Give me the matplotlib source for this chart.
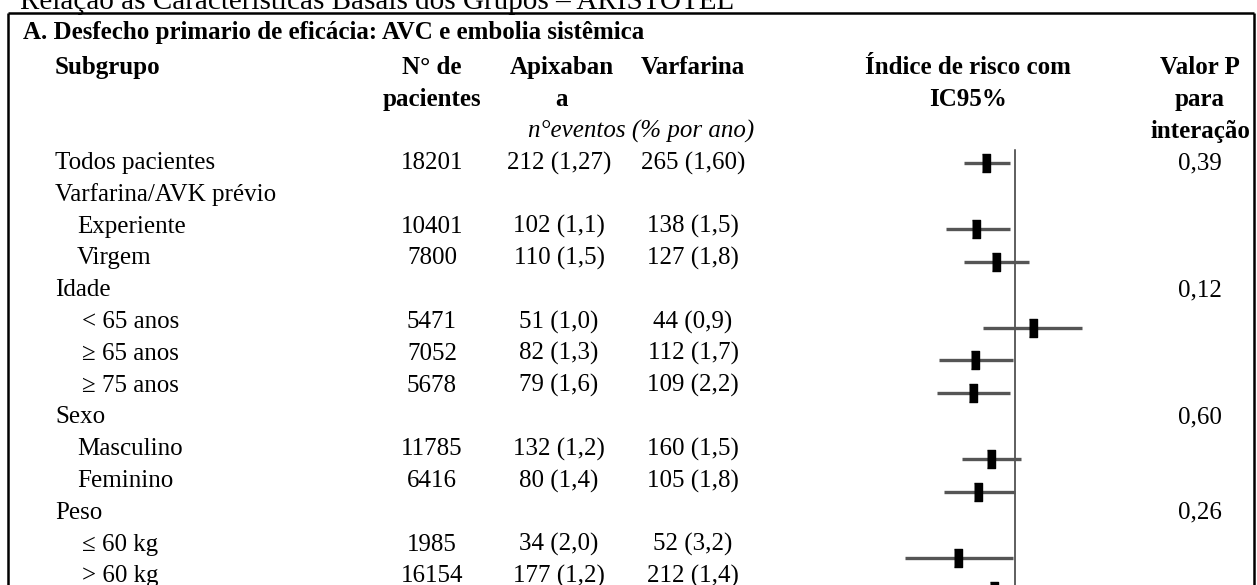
import numpy as np
import matplotlib
matplotlib.use("Agg")
import matplotlib.pyplot as plt

plt.rcParams['font.family'] = ['Liberation Serif', 'DejaVu Serif']

# table data
labels = ["Todos pacientes", "Varfarina/AVK prévio", "Experiente", "Virgem",
          "Idade", "< 65 anos", "≥ 65 anos", "≥ 75 anos",
          "Sexo", "Masculino", "Feminino", "Peso", "≤ 60 kg", "> 60 kg"]
indent = [0, 0, 1, 1, 0, 2, 2, 2, 0, 1, 1, 0, 2, 2]
n_pat = ["18201", "", "10401", "7800", "", "5471", "7052", "5678",
         "", "11785", "6416", "", "1985", "16154"]
apix = ["212 (1,27)", "", "102 (1,1)", "110 (1,5)", "", "51 (1,0)", "82 (1,3)", "79 (1,6)",
        "", "132 (1,2)", "80 (1,4)", "", "34 (2,0)", "177 (1,2)"]
warf = ["265 (1,60)", "", "138 (1,5)", "127 (1,8)", "", "44 (0,9)", "112 (1,7)", "109 (2,2)",
        "", "160 (1,5)", "105 (1,8)", "", "52 (3,2)", "212 (1,4)"]
pval = ["0,39", "", "", "", "0,12", "", "", "", "0,60", "", "", "0,26", "", ""]

# hazard ratios with 95% CI
hr = [0.79, np.nan, 0.73, 0.86, np.nan, 1.16, 0.72, 0.71, np.nan, 0.82, 0.74, np.nan, 0.63, 0.84]
hr_lo = [0.66, np.nan, 0.57, 0.66, np.nan, 0.77, 0.54, 0.53, np.nan, 0.65, 0.56, np.nan, 0.41, 0.69]
hr_hi = [0.96, np.nan, 0.96, 1.12, np.nan, 1.72, 0.98, 0.96, np.nan, 1.05, 1.00, np.nan, 0.98, 1.02]

W, H = 1257, 585
fig = plt.figure(figsize=(W / 100, H / 100), dpi=100)

# text layer in pixel coordinates
ax = fig.add_axes([0, 0, 1, 1])
ax.set_xlim(0, W)
ax.set_ylim(H, 0)
ax.axis('off')

fs = 18
def row_y(i):
    return 163 + 31.8 * i

# frame
ax.plot([8, 8], [13, H + 5], color='black', lw=1.8, solid_capstyle='butt')
ax.plot([8, 1254], [13, 13], color='black', lw=1.8, solid_capstyle='butt')
ax.plot([1254, 1254], [13, H + 5], color='black', lw=1.8, solid_capstyle='butt')

ax.text(20, 9, "Relação às Características Basais dos Grupos – ARISTOTEL",
        fontsize=21, va='baseline', ha='left')

ax.text(23, 33, "A. Desfecho primario de eficácia: AVC e embolia sistêmica",
        fontsize=fs, fontweight='bold', va='center', ha='left')

hy = [row_y(-3), row_y(-2), row_y(-1)]
ax.text(55, hy[0], "Subgrupo", fontsize=fs, fontweight='bold', va='center')
ax.text(432, hy[0], "N° de", fontsize=fs, fontweight='bold', va='center', ha='center')
ax.text(432, hy[1], "pacientes", fontsize=fs, fontweight='bold', va='center', ha='center')
ax.text(562, hy[0], "Apixaban", fontsize=fs, fontweight='bold', va='center', ha='center')
ax.text(562, hy[1], "a", fontsize=fs, fontweight='bold', va='center', ha='center')
ax.text(693, hy[0], "Varfarina", fontsize=fs, fontweight='bold', va='center', ha='center')
ax.text(641, hy[2], "n°eventos (% por ano)", fontsize=fs, style='italic', va='center', ha='center')
ax.text(968, hy[0], "Índice de risco com", fontsize=fs, fontweight='bold', va='center', ha='center')
ax.text(968, hy[1], "IC95%", fontsize=fs, fontweight='bold', va='center', ha='center')
ax.text(1200, hy[0], "Valor P", fontsize=fs, fontweight='bold', va='center', ha='center')
ax.text(1200, hy[1], "para", fontsize=fs, fontweight='bold', va='center', ha='center')
ax.text(1200, hy[2], "interação", fontsize=fs, fontweight='bold', va='center', ha='center')

indent_x = [55, 77, 82]
for i, lab in enumerate(labels):
    y = row_y(i)
    ax.text(indent_x[indent[i]], y, lab, fontsize=fs, va='center', ha='left')
    ax.text(432, y, n_pat[i], fontsize=fs, va='center', ha='center')
    ax.text(559, y, apix[i], fontsize=fs, va='center', ha='center')
    ax.text(693, y, warf[i], fontsize=fs, va='center', ha='center')
    ax.text(1200, y, pval[i], fontsize=fs, va='center', ha='center')

# forest plot on a log axis: HR=1 at x=1015 px, 123 px per ln unit
x0, x1 = 880, 1100
fx = fig.add_axes([x0 / W, 0, (x1 - x0) / W, 1])
fx.set_xscale('log')
fx.set_xlim(np.exp((x0 - 1015) / 123), np.exp((x1 - 1015) / 123))
fy0, fstep = 163, 32.9
fx.set_ylim((H - fy0) / fstep, -fy0 / fstep)
fx.axis('off')
fx.patch.set_alpha(0)

rows = np.arange(len(labels))
fx.plot([1, 1], [(150 - fy0) / fstep, 14], color='#333333', lw=1.1)
box = [(-0.24, -0.5), (0.24, -0.5), (0.24, 0.5), (-0.24, 0.5)]
for i in rows:
    if np.isnan(hr[i]):
        continue
    fx.plot([hr_lo[i], hr_hi[i]], [i, i], color='#555555', lw=2.4, solid_capstyle='butt')
    fx.plot(hr[i], i, marker=box, markersize=12.5, color='black', linestyle='none')

fig.savefig("out.png", dpi=100)
